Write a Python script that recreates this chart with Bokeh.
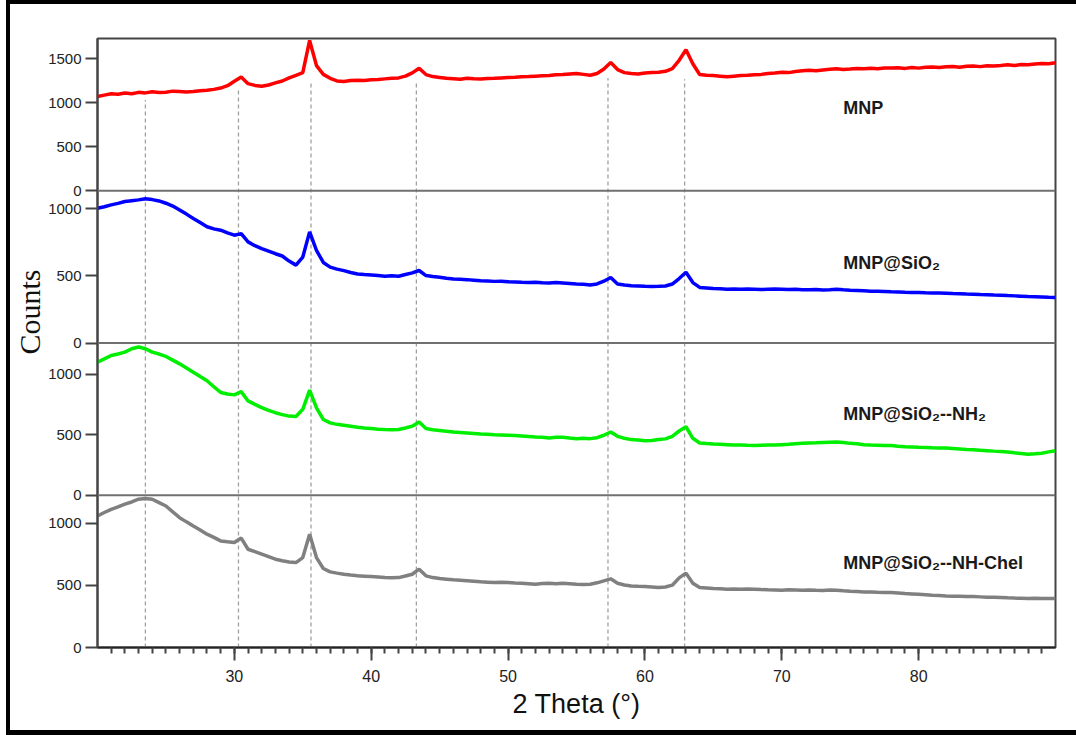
from bokeh.plotting import figure
from bokeh.models import (Range1d, FixedTicker, CustomJSTickFormatter, Span, Title)
from bokeh.core.properties import value
from bokeh.embed import file_html
from bokeh.resources import INLINE

# ---------------- data ----------------
two_theta = [20 + 0.5 * i for i in range(141)]  # 20.0 ... 90.0, step 0.5

mnp = [
    1070, 1085, 1100, 1095, 1108, 1100, 1116, 1110, 1123, 1115,
    1118, 1130, 1127, 1120, 1125, 1135, 1139, 1150, 1165, 1192,
    1242, 1290, 1215, 1195, 1185, 1200, 1223, 1245, 1280, 1310,
    1340, 1705, 1420, 1320, 1275, 1245, 1240, 1250, 1253, 1250,
    1258, 1262, 1269, 1275, 1280, 1300, 1337, 1390, 1318, 1295,
    1285, 1275, 1270, 1265, 1275, 1270, 1268, 1272, 1275, 1280,
    1285, 1288, 1292, 1295, 1300, 1305, 1307, 1315, 1318, 1325,
    1330, 1320, 1310, 1330, 1380, 1455, 1375, 1340, 1330, 1325,
    1335, 1340, 1345, 1355, 1385, 1480, 1600, 1440, 1318, 1310,
    1307, 1300, 1292, 1300, 1307, 1310, 1315, 1320, 1330, 1335,
    1345, 1340, 1352, 1360, 1368, 1362, 1370, 1378, 1383, 1375,
    1380, 1388, 1383, 1390, 1385, 1392, 1391, 1395, 1388, 1398,
    1391, 1400, 1405, 1398, 1406, 1410, 1402, 1412, 1414, 1408,
    1418, 1415, 1421, 1428, 1420, 1432, 1430, 1438, 1444, 1440,
    1452,
]

mnp_sio2 = [
    1004, 1015, 1029, 1040, 1054, 1060, 1066, 1074, 1068, 1058,
    1041, 1020, 991, 960, 928, 897, 866, 850, 840, 820,
    803, 815, 753, 725, 703, 685, 665, 648, 610, 580,
    640, 828, 690, 600, 565, 550, 539, 525, 514, 510,
    507, 502, 497, 500, 497, 510, 522, 540, 502, 495,
    489, 482, 477, 475, 472, 468, 464, 462, 459, 460,
    457, 455, 452, 450, 452, 448, 447, 450, 447, 443,
    439, 437, 432, 440, 460, 488, 439, 432, 427, 425,
    422, 420, 422, 425, 439, 480, 527, 450, 414, 410,
    406, 404, 401, 403, 400, 402, 401, 398, 400, 402,
    401, 398, 400, 397, 396, 398, 395, 397, 400, 396,
    393, 391, 389, 386, 385, 383, 381, 380, 378, 377,
    376, 374, 373, 372, 371, 368, 367, 365, 364, 361,
    360, 357, 356, 353, 351, 349, 346, 344, 342, 340,
    339,
]

mnp_sio2_nh2 = [
    1098, 1125, 1153, 1165, 1181, 1209, 1223, 1209, 1181, 1165,
    1145, 1115, 1084, 1050, 1014, 980, 945, 895, 848, 835,
    828, 855, 778, 750, 723, 700, 681, 665, 653, 650,
    709, 867, 720, 625, 597, 585, 578, 570, 561, 555,
    550, 545, 542, 540, 542, 555, 570, 605, 550, 540,
    534, 528, 522, 518, 514, 510, 506, 503, 500, 498,
    495, 492, 489, 485, 481, 478, 472, 478, 478, 472,
    467, 470, 467, 475, 495, 522, 486, 470, 459, 455,
    450, 452, 459, 465, 486, 530, 565, 470, 431, 426,
    422, 420, 417, 414, 415, 412, 411, 413, 415, 414,
    417, 420, 425, 428, 431, 433, 436, 438, 439, 435,
    428, 424, 417, 414, 413, 411, 411, 405, 400, 398,
    395, 393, 391, 390, 389, 386, 382, 378, 375, 371,
    368, 364, 361, 356, 350, 345, 339, 342, 347, 358,
    367,
]

mnp_sio2_nh_chel = [
    1058, 1085, 1111, 1130, 1152, 1170, 1192, 1197, 1192, 1165,
    1138, 1090, 1044, 1010, 977, 945, 911, 885, 857, 850,
    844, 880, 790, 770, 750, 730, 710, 698, 688, 683,
    723, 911, 723, 635, 608, 598, 589, 582, 576, 573,
    570, 566, 562, 560, 562, 575, 589, 630, 576, 562,
    554, 549, 544, 540, 536, 532, 528, 525, 522, 524,
    522, 519, 517, 513, 509, 514, 517, 512, 517, 513,
    509, 506, 509, 520, 536, 552, 517, 503, 495, 492,
    490, 486, 482, 486, 501, 560, 598, 517, 482, 478,
    474, 472, 469, 471, 468, 470, 469, 466, 464, 463,
    461, 464, 462, 460, 463, 460, 458, 462, 461, 456,
    452, 450, 447, 446, 444, 443, 442, 438, 434, 431,
    428, 425, 421, 418, 415, 413, 412, 411, 410, 407,
    404, 403, 402, 399, 397, 396, 394, 395, 393, 394,
    394,
]

series = [mnp, mnp_sio2, mnp_sio2_nh2, mnp_sio2_nh_chel]
series_names = ["MNP", "MNP@SiO\u2082", "MNP@SiO\u2082--NH\u2082", "MNP@SiO\u2082--NH-Chel"]
series_colors = ["#ff0000", "#0000ff", "#00ee00", "#808080"]

panel_tops = [1727, 1134, 1256, 1224]          # y-range top of each panel (top to bottom)
panel_ticks = [[0, 500, 1000, 1500], [0, 500, 1000], [0, 500, 1000], [0, 500, 1000]]

x_major_ticks = [30, 40, 50, 60, 70, 80]
x_minor_ticks = list(range(21, 90))

peak_positions = [23.5, 30.3, 35.6, 43.3, 57.3, 62.9]
peak_line_top = [1030, 1150, 1230, 1225, 1280, 1265]   # where the guide ends in the top panel

# ---------------- figure ----------------
N = len(series)
p = figure(width=1066, height=726, x_range=Range1d(20, 90), y_range=Range1d(0, N),
           output_backend="svg", toolbar_location=None,
           min_border_left=87, min_border_right=21, min_border_top=34, min_border_bottom=83)
# black picture frame on the top, left and bottom (drawn as outer shadows)
p.styles = {"margin-left": "10px", "margin-top": "4px", "vertical-align": "top",
            "box-shadow": ("-4px 0px 0px 0px black, 0px -4px 0px 0px black, "
                           "-4px -4px 0px 0px black, 0px 5px 0px 0px black, "
                           "-4px 5px 0px 0px black")}
p.grid.visible = False
p.background_fill_color = "white"
p.border_fill_color = "white"
p.outline_line_color = "#444444"
p.outline_line_width = 2

p.extra_y_ranges = {
    f"panel{i}": Range1d(-(N - 1 - i) * top, (i + 1) * top)
    for i, top in enumerate(panel_tops)
}

# dashed guide lines
p.segment(x0=peak_positions, y0=[-(N - 1) * panel_tops[0]] * len(peak_positions),
          x1=peak_positions, y1=peak_line_top, y_range_name="panel0",
          line_color="#a0a0a0", line_width=1.3, line_dash="4 3")

# panel separators
for k in range(1, N):
    p.add_layout(Span(location=k, dimension="width", line_color="#707070", line_width=2))

# traces
for i, (ys, col) in enumerate(zip(series, series_colors)):
    p.line(two_theta, ys, y_range_name=f"panel{i}", line_color=col, line_width=3.5)

# series labels
label_pos_y = [943, 597, 669, 680]
for i, name in enumerate(series_names):
    p.text(x=[74.5], y=[label_pos_y[i]], text=[name], y_range_name=f"panel{i}",
           text_font=value("Liberation Sans"), text_font_style="bold",
           text_font_size="18px", text_color="#1a1a1a",
           text_align="left", text_baseline="middle")

# y axis (one tick set per panel)
yt = []
for i, (top, ticks) in enumerate(zip(panel_tops, panel_ticks)):
    k = N - 1 - i
    yt += [k + v / top for v in ticks]
p.yaxis.ticker = FixedTicker(ticks=sorted(yt), minor_ticks=[])
p.yaxis.formatter = CustomJSTickFormatter(args=dict(tops=panel_tops[::-1]), code="""
const k = Math.min(Math.floor(tick + 1e-9), tops.length - 1);
return String(Math.round((tick - k) * tops[k]));
""")
p.yaxis.axis_line_color = "#444444"
p.yaxis.axis_line_width = 2
p.yaxis.major_tick_line_color = "#444444"
p.yaxis.major_tick_line_width = 2
p.yaxis.major_tick_out = 12
p.yaxis.major_tick_in = 0
p.yaxis.minor_tick_line_color = None
p.yaxis.major_label_standoff = 4
p.yaxis.major_label_text_font = "Liberation Sans"
p.yaxis.major_label_text_font_size = "15px"
p.yaxis.major_label_text_color = "#222222"

# x axis
p.xaxis.ticker = FixedTicker(ticks=x_major_ticks, minor_ticks=x_minor_ticks)
p.xaxis.axis_line_color = "#222222"
p.xaxis.axis_line_width = 2
p.xaxis.major_tick_line_color = "#444444"
p.xaxis.major_tick_line_width = 2
p.xaxis.major_tick_out = 13
p.xaxis.major_tick_in = 0
p.xaxis.minor_tick_line_color = "#444444"
p.xaxis.minor_tick_line_width = 2
p.xaxis.minor_tick_out = 6
p.xaxis.minor_tick_in = 0
p.xaxis.major_label_standoff = 9
p.xaxis.major_label_text_font = "Liberation Sans"
p.xaxis.major_label_text_font_size = "16px"
p.xaxis.major_label_text_color = "#222222"
p.xaxis.axis_label = "2 Theta (\u00b0)"
p.xaxis.axis_label_text_font = "Liberation Sans"
p.xaxis.axis_label_text_font_size = "27px"
p.xaxis.axis_label_text_font_style = "normal"
p.xaxis.axis_label_text_color = "#111111"
p.xaxis.axis_label_standoff = 4

# y-axis title, placed in the left side panel (start of text 293 px above frame bottom)
p.add_layout(Title(text="Counts", align="left", offset=293, standoff=0,
                   text_font="Liberation Serif", text_font_size="30px",
                   text_font_style="normal", text_color="#111111"), "left")

open("out.html", "w").write(file_html(p, INLINE))
